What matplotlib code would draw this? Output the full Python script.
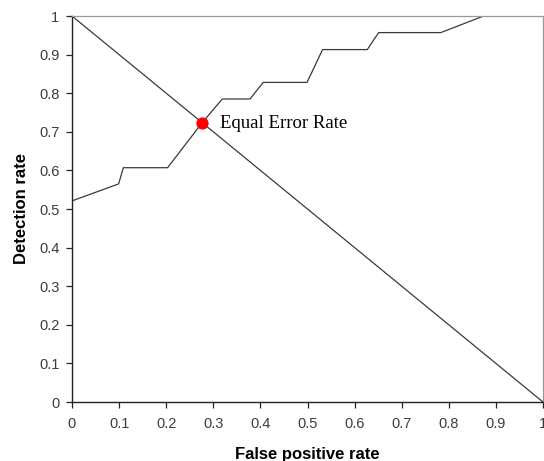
import matplotlib.pyplot as plt

# --------------------------
# DATA
# --------------------------
fpr = [0.0, 0.099, 0.109, 0.203, 0.276, 0.319, 0.378, 0.406, 0.499, 0.532,
       0.627, 0.651, 0.783, 0.874, 1.0]
tpr = [0.521, 0.565, 0.607, 0.607, 0.723, 0.785, 0.785, 0.828, 0.828, 0.913,
       0.913, 0.957, 0.957, 1.0, 1.0]

diag_x = [0.0, 1.0]
diag_y = [1.0, 0.0]

eer_x = 0.276
eer_y = 0.723
eer_label = "Equal Error Rate"

ticks = [0, 0.1, 0.2, 0.3, 0.4, 0.5, 0.6, 0.7, 0.8, 0.9, 1]
tick_labels = ["0", "0.1", "0.2", "0.3", "0.4", "0.5", "0.6", "0.7", "0.8", "0.9", "1"]

# --------------------------
# PLOT
# --------------------------
plt.rcParams['font.family'] = ['Liberation Sans', 'DejaVu Sans']

fig = plt.figure(figsize=(5.44, 4.61), dpi=100)
ax = fig.add_axes([72 / 544, 59 / 461, 471 / 544, 386 / 461])

line_col = "#3a3a3a"
ax.plot(diag_x, diag_y, color=line_col, lw=0.9)
ax.plot(fpr, tpr, color=line_col, lw=0.9)
ax.plot([eer_x], [eer_y], "o", color="red", markersize=7.8, zorder=5)
ax.annotate(eer_label, (eer_x, eer_y), xytext=(13, -0.5), textcoords="offset points",
            va="center", ha="left", fontsize=13.5, family="Liberation Serif", color="black")

ax.set_xlim(0, 1)
ax.set_ylim(0, 1)
ax.set_xticks(ticks)
ax.set_xticklabels(tick_labels)
ax.set_yticks(ticks)
ax.set_yticklabels(tick_labels)
ax.tick_params(direction="out", length=4, width=0.9, colors="#222222",
               labelsize=10.5, labelcolor="#3c3c3c")
ax.tick_params(axis="x", pad=7)
ax.tick_params(axis="y", pad=5)

for side in ["left", "bottom"]:
    ax.spines[side].set_color("#222222")
    ax.spines[side].set_linewidth(1.0)
for side in ["top", "right"]:
    ax.spines[side].set_color("#999999")
    ax.spines[side].set_linewidth(0.9)

ax.set_xlabel("False positive rate", fontsize=12, fontweight="bold", labelpad=11)
ax.set_ylabel("Detection rate", fontsize=12, fontweight="bold", labelpad=7)

fig.savefig("out.png", dpi=100)
